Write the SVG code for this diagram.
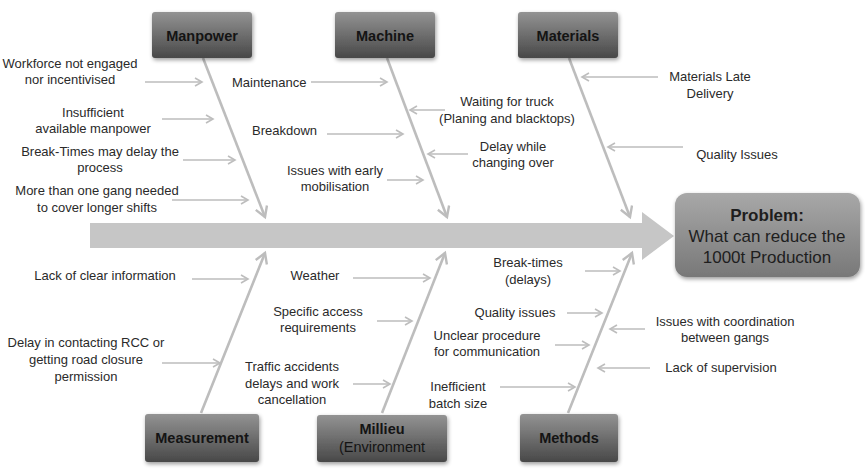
<svg xmlns="http://www.w3.org/2000/svg" width="865" height="470" viewBox="0 0 865 470">
<defs>
  <linearGradient id="boxg" x1="0" y1="0" x2="0" y2="1">
    <stop offset="0" stop-color="#939393"/>
    <stop offset="1" stop-color="#484848"/>
  </linearGradient>
  <linearGradient id="probg" x1="0" y1="0" x2="0" y2="1">
    <stop offset="0" stop-color="#a8a8a8"/>
    <stop offset="1" stop-color="#787878"/>
  </linearGradient>
  <filter id="sh" x="-10%" y="-10%" width="130%" height="140%">
    <feGaussianBlur in="SourceAlpha" stdDeviation="2"/>
    <feOffset dx="1" dy="2" result="b"/>
    <feComponentTransfer><feFuncA type="linear" slope="0.4"/></feComponentTransfer>
    <feMerge><feMergeNode/><feMergeNode in="SourceGraphic"/></feMerge>
  </filter>
  <marker id="ah" markerWidth="10" markerHeight="10" refX="8" refY="5" orient="auto" markerUnits="userSpaceOnUse">
    <path d="M1,1 L8,5 L1,9" fill="none" stroke="#bdbdbd" stroke-width="1.6"/>
  </marker>
  <marker id="ahb" markerWidth="14" markerHeight="14" refX="11" refY="7" orient="auto" markerUnits="userSpaceOnUse">
    <path d="M1,1 L11,7 L1,13" fill="none" stroke="#bdbdbd" stroke-width="2.4"/>
  </marker>
</defs>
<style>
  .t { font-family: "Liberation Sans", Arial, sans-serif; font-size: 13px; fill: #2a2a2a; text-anchor: middle; }
  .tl { text-anchor: start; }
  .hd { font-family: "Liberation Sans", Arial, sans-serif; font-size: 14.5px; font-weight: bold; fill: #141414; text-anchor: middle; }
  .hn { font-family: "Liberation Sans", Arial, sans-serif; font-size: 14.5px; fill: #141414; text-anchor: middle; }
  .box { fill: url(#boxg); filter: url(#sh); }
  .bone { stroke: #bdbdbd; stroke-width: 2.6; fill: none; marker-end: url(#ahb); }
  .sm { stroke: #bdbdbd; stroke-width: 1.6; fill: none; marker-end: url(#ah); }
  .pt { font-family: "Liberation Sans", Arial, sans-serif; font-size: 17px; fill: #1e1e1e; text-anchor: middle; }
</style>
<rect width="865" height="470" fill="#ffffff"/>

<g id="spine">
  <path d="M90,223 L642,223 L642,212 L674,236 L642,260 L642,248 L90,248 Z" fill="#c6c6c6"/>
</g>

<g id="connectors">
  <line class="bone" x1="203" y1="58" x2="265" y2="217"/>
  <line class="bone" x1="387" y1="58" x2="447" y2="217"/>
  <line class="bone" x1="569" y1="58" x2="630" y2="217"/>
  <line class="bone" x1="201" y1="413" x2="265" y2="253"/>
  <line class="bone" x1="382" y1="413" x2="445" y2="253"/>
  <line class="bone" x1="568" y1="413" x2="632" y2="253"/>

  <line class="sm" x1="145" y1="82" x2="202" y2="82"/>
  <line class="sm" x1="162" y1="119" x2="213" y2="119"/>
  <line class="sm" x1="183" y1="160" x2="235" y2="160"/>
  <line class="sm" x1="172" y1="200" x2="248" y2="200"/>

  <line class="sm" x1="311" y1="82" x2="387" y2="82"/>
  <line class="sm" x1="327" y1="134" x2="403" y2="134"/>
  <line class="sm" x1="387" y1="180" x2="423" y2="180"/>
  <line class="sm" x1="445" y1="110" x2="410" y2="110"/>
  <line class="sm" x1="468" y1="154" x2="428" y2="154"/>

  <line class="sm" x1="658" y1="77" x2="582" y2="77"/>
  <line class="sm" x1="683" y1="147" x2="608" y2="147"/>

  <line class="sm" x1="192" y1="279" x2="248" y2="279"/>
  <line class="sm" x1="162" y1="363" x2="220" y2="363"/>

  <line class="sm" x1="353" y1="278" x2="430" y2="278"/>
  <line class="sm" x1="377" y1="321" x2="412" y2="321"/>
  <line class="sm" x1="353" y1="384" x2="390" y2="384"/>

  <line class="sm" x1="585" y1="271" x2="620" y2="271"/>
  <line class="sm" x1="567" y1="313" x2="602" y2="313"/>
  <line class="sm" x1="555" y1="345" x2="589" y2="345"/>
  <line class="sm" x1="500" y1="387" x2="575" y2="387"/>
  <line class="sm" x1="645" y1="329" x2="610" y2="329"/>
  <line class="sm" x1="650" y1="368" x2="598" y2="368"/>
</g>

<g id="manpower">
  <rect class="box" x="152" y="12" width="100" height="46" rx="3"/>
  <text class="hd" x="202" y="41">Manpower</text>
</g>
<g id="machine">
  <rect class="box" x="335" y="12" width="100" height="46" rx="3"/>
  <text class="hd" x="385" y="41">Machine</text>
</g>
<g id="materials">
  <rect class="box" x="518" y="12" width="100" height="46" rx="3"/>
  <text class="hd" x="568" y="41">Materials</text>
</g>
<g id="measurement">
  <rect class="box" x="145" y="414" width="114" height="48" rx="3"/>
  <text class="hd" x="202" y="443">Measurement</text>
</g>
<g id="millieu">
  <rect class="box" x="317" y="415" width="130" height="47" rx="3"/>
  <text class="hd" x="382" y="434">Millieu</text>
  <text class="hn" x="382" y="452">(Environment</text>
</g>
<g id="methods">
  <rect class="box" x="520" y="414" width="98" height="48" rx="3"/>
  <text class="hd" x="569" y="443">Methods</text>
</g>
<g id="problem">
  <rect x="675" y="193" width="185" height="84" rx="12" fill="url(#probg)" filter="url(#sh)"/>
  <text class="pt" x="767" y="221" font-weight="bold">Problem:</text>
  <text class="pt" x="767" y="242">What can reduce the</text>
  <text class="pt" x="767" y="263">1000t Production</text>
</g>

<g id="labels">
  <text class="t" x="70" y="68">Workforce not engaged</text>
  <text class="t" x="70" y="84">nor incentivised</text>
  <text class="t" x="93" y="117">Insufficient</text>
  <text class="t" x="93" y="133">available manpower</text>
  <text class="t" x="100" y="156">Break-Times may delay the</text>
  <text class="t" x="100" y="172">process</text>
  <text class="t" x="97" y="195">More than one gang needed</text>
  <text class="t" x="97" y="212">to cover longer shifts</text>

  <text class="t tl" x="232" y="87">Maintenance</text>
  <text class="t tl" x="252" y="135">Breakdown</text>
  <text class="t" x="335" y="175">Issues with early</text>
  <text class="t" x="335" y="191">mobilisation</text>
  <text class="t" x="507" y="106">Waiting for truck</text>
  <text class="t" x="507" y="123">(Planing and blacktops)</text>
  <text class="t" x="513" y="151">Delay while</text>
  <text class="t" x="513" y="167">changing over</text>

  <text class="t" x="710" y="81">Materials Late</text>
  <text class="t" x="710" y="98">Delivery</text>
  <text class="t" x="737" y="159">Quality Issues</text>

  <text class="t" x="105" y="280">Lack of clear information</text>
  <text class="t" x="86" y="347">Delay in contacting RCC or</text>
  <text class="t" x="86" y="364">getting road closure</text>
  <text class="t" x="86" y="381">permission</text>

  <text class="t" x="315" y="280">Weather</text>
  <text class="t" x="318" y="316">Specific access</text>
  <text class="t" x="318" y="332">requirements</text>
  <text class="t" x="292" y="371">Traffic accidents</text>
  <text class="t" x="292" y="388">delays and work</text>
  <text class="t" x="292" y="404">cancellation</text>

  <text class="t" x="528" y="267">Break-times</text>
  <text class="t" x="528" y="284">(delays)</text>
  <text class="t" x="515" y="317">Quality issues</text>
  <text class="t" x="487" y="340">Unclear procedure</text>
  <text class="t" x="487" y="356">for communication</text>
  <text class="t" x="458" y="391">Inefficient</text>
  <text class="t" x="458" y="408">batch size</text>

  <text class="t" x="725" y="326">Issues with coordination</text>
  <text class="t" x="725" y="342">between gangs</text>
  <text class="t" x="721" y="372">Lack of supervision</text>
</g>
</svg>
